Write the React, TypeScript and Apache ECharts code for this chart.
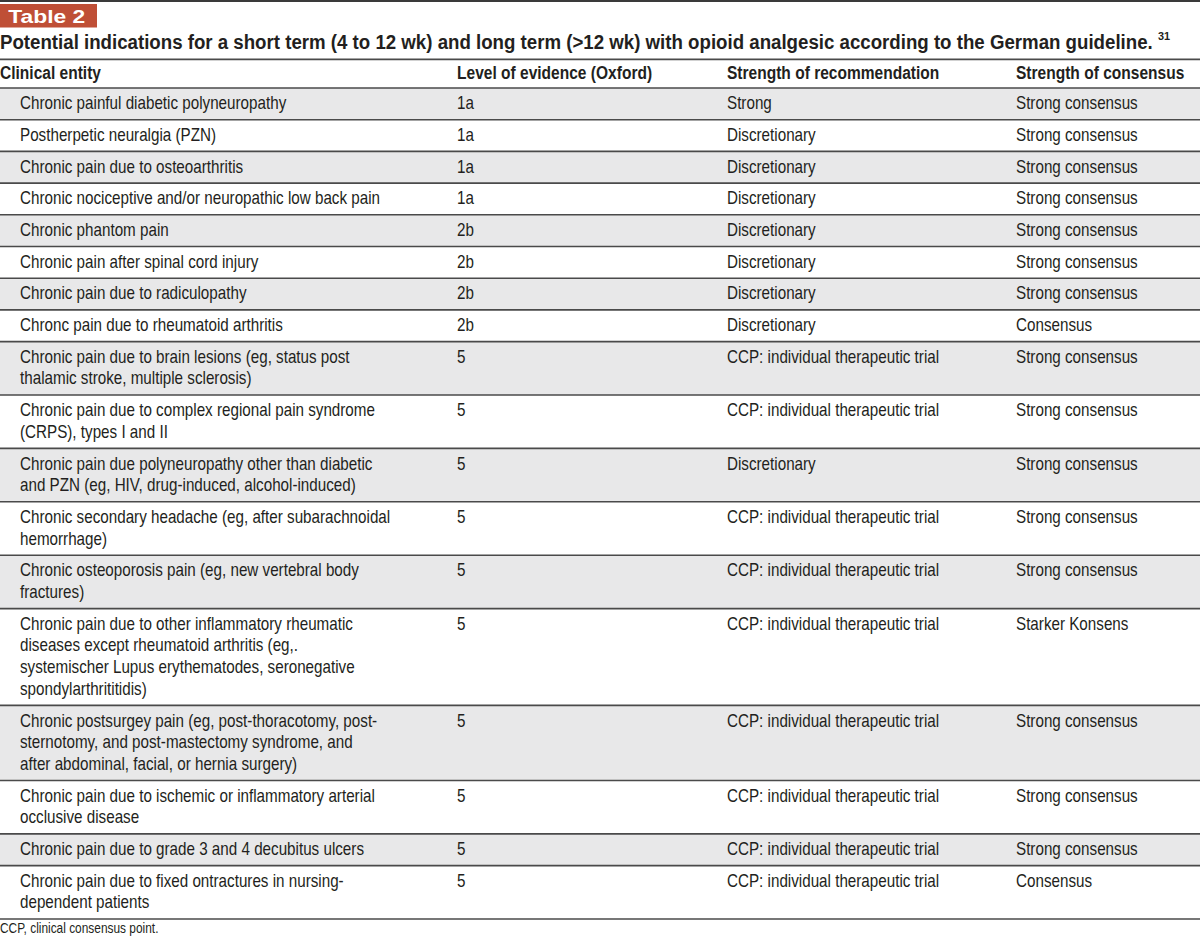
import React, { useEffect, useRef } from "react";
import * as echarts from "echarts";

const tableLabel = "Table 2";
const titleText =
  "Potential indications for a short term (4 to 12 wk) and long term (>12 wk) with opioid analgesic according to the German guideline.";
const titleSup = "31";
const headers = [
  "Clinical entity",
  "Level of evidence (Oxford)",
  "Strength of recommendation",
  "Strength of consensus",
];
const entities = [
  "Chronic painful diabetic polyneuropathy",
  "Postherpetic neuralgia (PZN)",
  "Chronic pain due to osteoarthritis",
  "Chronic nociceptive and/or neuropathic low back pain",
  "Chronic phantom pain",
  "Chronic pain after spinal cord injury",
  "Chronic pain due to radiculopathy",
  "Chronc pain due to rheumatoid arthritis",
  "Chronic pain due to brain lesions (eg, status post\nthalamic stroke, multiple sclerosis)",
  "Chronic pain due to complex regional pain syndrome\n(CRPS), types I and II",
  "Chronic pain due polyneuropathy other than diabetic\nand PZN (eg, HIV, drug-induced, alcohol-induced)",
  "Chronic secondary headache (eg, after subarachnoidal\nhemorrhage)",
  "Chronic osteoporosis pain (eg, new vertebral body\nfractures)",
  "Chronic pain due to other inflammatory rheumatic\ndiseases except rheumatoid arthritis (eg,.\nsystemischer Lupus erythematodes, seronegative\nspondylarthrititidis)",
  "Chronic postsurgey pain (eg, post-thoracotomy, post-\nsternotomy, and post-mastectomy syndrome, and\nafter abdominal, facial, or hernia surgery)",
  "Chronic pain due to ischemic or inflammatory arterial\nocclusive disease",
  "Chronic pain due to grade 3 and 4 decubitus ulcers",
  "Chronic pain due to fixed ontractures in nursing-\ndependent patients",
];
const evidenceLevels = [
  "1a", "1a", "1a", "1a", "2b", "2b", "2b", "2b",
  "5", "5", "5", "5", "5", "5", "5", "5", "5", "5",
];
const CCP = "CCP: individual therapeutic trial";
const recommendations = [
  "Strong", "Discretionary", "Discretionary", "Discretionary", "Discretionary",
  "Discretionary", "Discretionary", "Discretionary", CCP, CCP, "Discretionary",
  CCP, CCP, CCP, CCP, CCP, CCP, CCP,
];
const consensus = [
  "Strong consensus", "Strong consensus", "Strong consensus", "Strong consensus",
  "Strong consensus", "Strong consensus", "Strong consensus", "Consensus",
  "Strong consensus", "Strong consensus", "Strong consensus", "Strong consensus",
  "Strong consensus", "Starker Konsens", "Strong consensus", "Strong consensus",
  "Strong consensus", "Consensus",
];
const footnote = "CCP, clinical consensus point.";

const FONT = '"Liberation Sans", Arial, "DejaVu Sans", sans-serif';

export default function App() {
  const ref = useRef<HTMLDivElement>(null);
  useEffect(() => {
    if (!ref.current) return;
    const chart = echarts.init(ref.current, undefined, { renderer: "svg" });
    const W = 1200;
    const colX = [0, 457, 727, 1016];
    const bodyX = [20, 457, 727, 1016];
    const lineH = 21.7;
    const pad = 10;
    const textColor = "#231f20";
    const lineColor = "#4a4a4a";
    const els: any[] = [];

    const txt = (text: string, x: number, y: number, font: string, sx: number, fill = textColor) => ({
      type: "text",
      x,
      y,
      scaleX: sx,
      style: { text, x: 0, y: 0, verticalAlign: "middle", fill, font },
    });

    // top rule
    els.push({ type: "rect", shape: { x: 0, y: 0, width: W, height: 2 }, style: { fill: "#3a3a3a" } });
    // Table label box
    els.push({ type: "rect", shape: { x: 0, y: 4, width: 97, height: 23.5 }, style: { fill: "#bf4f36" } });
    els.push(txt(tableLabel, 8.3, 16.4, `bold 18px ${FONT}`, 1.27, "#ffffff"));
    // title
    els.push(txt(titleText, 0, 42.3, `bold 19.5px ${FONT}`, 0.958));
    els.push(txt(titleSup, 1158, 36, `bold 11.5px ${FONT}`, 0.95));
    els.push({ type: "rect", shape: { x: 0, y: 58.6, width: W, height: 1.6 }, style: { fill: lineColor } });
    // headers
    headers.forEach((h, i) => {
      els.push(txt(h, colX[i], 73.5, `bold 18.5px ${FONT}`, 0.84));
    });

    let y = 88;
    const rowsTop: number[] = [];
    entities.forEach((ent, r) => {
      const lines = ent.split("\n");
      const h = lines.length * lineH + pad;
      rowsTop.push(y);
      if (r % 2 === 0) {
        els.push({ type: "rect", shape: { x: 0, y, width: W, height: h }, style: { fill: "#e8e8e9" } });
      }
      const firstY = y + 15.2;
      lines.forEach((ln, k) => {
        els.push(txt(ln, bodyX[0], firstY + k * lineH, `18px ${FONT}`, 0.845));
      });
      [evidenceLevels[r], recommendations[r], consensus[r]].forEach((t, c) => {
        els.push(txt(t, bodyX[c + 1], firstY, `18px ${FONT}`, 0.845));
      });
      y += h;
    });
    // row rules
    [88, ...rowsTop.slice(1), y].forEach((ly) => {
      els.push({ type: "rect", shape: { x: 0, y: ly - 0.8, width: W, height: 1.6 }, style: { fill: lineColor } });
    });
    els.push(txt(footnote, 0, 928.5, `14px ${FONT}`, 0.85));

    chart.setOption({ animation: false, backgroundColor: "#ffffff", graphic: { elements: els } });
    return () => chart.dispose();
  }, []);
  return <div ref={ref} style={{ position: "fixed", left: 0, top: 0, width: 1200, height: 938 }} />;
}
